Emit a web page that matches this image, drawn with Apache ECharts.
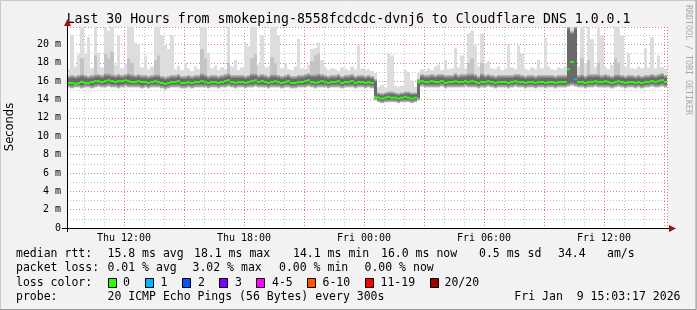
<!DOCTYPE html>
<html><head><meta charset="utf-8">
<script src="https://cdn.jsdelivr.net/npm/echarts@6/dist/echarts.min.js"></script>
<style>html,body{margin:0;padding:0;background:#f2f2f2}#c{width:697px;height:310px}</style>
</head><body><div id="c"></div>
<script>
// ---- time layout (hours since Thu 00:00), 10-minute bins ----
const startHour = 9.15;          // Thu 09:09
const spanHours = 30;
const stepHours = 1 / 6;
const yMax = 21.9;               // ms

const tickHours  = [12, 18, 24, 30, 36];
const tickLabels = ['Thu 12:00', 'Thu 18:00', 'Fri 00:00', 'Fri 06:00', 'Fri 12:00'];

// median rtt (ms)
const med = [
15.8,15.8,15.7,15.8,15.9,15.8,15.8,15.9,16.0,16.0,
15.9,16.0,16.1,16.0,15.9,16.0,16.0,16.1,16.0,15.9,
15.9,16.0,15.9,15.9,15.8,15.9,16.0,15.9,15.8,15.7,
15.8,15.9,15.9,16.0,15.8,15.8,15.9,15.8,15.9,15.9,
16.0,15.9,15.8,15.9,15.9,15.8,15.9,16.0,16.1,15.9,
15.8,15.9,15.9,15.8,15.9,16.0,16.1,15.9,16.0,15.9,
15.8,15.9,16.0,15.9,15.8,15.9,16.0,15.8,15.8,15.9,
15.9,16.0,16.1,15.9,15.8,15.9,16.0,15.9,15.8,15.9,
15.9,16.0,15.8,15.9,15.9,16.0,15.8,15.9,15.9,15.8,
15.9,15.8,14.3,14.2,14.1,14.2,14.3,14.2,14.2,14.1,
14.2,14.3,14.2,14.1,14.2,15.9,16.0,15.9,15.9,16.0,
15.9,15.9,16.0,15.8,15.9,15.9,16.0,15.9,15.9,16.0,
15.9,16.0,15.9,15.8,15.9,15.9,16.0,15.9,15.8,15.9,
15.9,15.9,15.8,15.9,16.0,15.9,15.9,15.8,15.9,15.9,
15.8,15.9,15.9,15.8,15.9,15.9,15.8,15.9,15.9,15.9,
17.3,18.1,16.2,15.9,15.9,15.8,15.9,15.9,16.0,15.9,
15.9,16.0,15.9,15.8,15.9,16.0,15.9,15.8,15.9,15.9,
15.8,15.9,15.8,15.9,15.9,16.0,15.9,16.0,16.1,15.9];

// loss category per bin (index into lossColors)
const loss = [
0,0,0,0,0,0,0,0,0,0, 0,0,0,0,0,0,0,0,0,0, 0,0,0,0,0,0,0,0,0,0,
0,0,0,0,0,0,0,0,0,0, 0,0,0,0,0,0,0,0,0,0, 0,0,0,0,0,0,0,0,0,0,
0,0,0,0,0,0,0,0,0,0, 0,0,0,0,0,0,0,0,0,0, 0,0,0,0,0,0,0,0,0,0,
0,0,0,0,0,0,0,0,0,0, 0,0,0,0,0,0,0,0,0,0, 0,0,0,0,0,0,0,0,0,0,
0,0,0,0,0,0,0,0,0,0, 0,0,0,0,0,0,0,0,0,0, 0,0,0,0,0,0,0,0,0,0,
0,0,1,0,0,0,0,0,0,0, 0,0,0,0,0,0,0,0,0,0, 0,0,0,0,0,0,0,0,0,0];

// lower edge of the dense smoke band (ms)
const lo = [
15.3,15.2,15.3,15.3,15.2,15.3,15.3,15.2,15.3,15.4,
15.3,15.3,15.4,15.3,15.3,15.2,15.3,15.4,15.3,15.3,
15.3,15.3,15.2,15.3,15.2,15.3,15.3,15.3,15.2,15.1,
15.2,15.3,15.3,15.3,15.2,15.2,15.3,15.2,15.3,15.3,
15.3,15.3,15.2,15.3,15.3,15.2,15.3,15.3,15.4,15.3,
15.2,15.3,15.3,15.2,15.3,15.3,15.4,15.3,15.3,15.3,
15.2,15.3,15.3,15.3,15.2,15.3,15.3,15.2,15.2,15.3,
15.3,15.3,15.4,15.3,15.2,15.3,15.3,15.3,15.2,15.3,
15.3,15.3,15.2,15.3,15.3,15.3,15.2,15.3,15.3,15.2,
15.3,15.2,13.9,13.7,13.6,13.7,13.7,13.7,13.7,13.6,
13.7,13.7,13.7,13.6,13.7,13.9,15.4,15.3,15.3,15.3,
15.3,15.3,15.4,15.2,15.3,15.3,15.3,15.3,15.3,15.4,
15.3,15.3,15.3,15.2,15.3,15.3,15.4,15.3,15.2,15.3,
15.3,15.3,15.2,15.3,15.4,15.3,15.3,15.2,15.3,15.3,
15.2,15.3,15.3,15.2,15.3,15.3,15.2,15.3,15.3,15.3,
15.4,15.5,15.4,15.3,15.3,15.2,15.3,15.3,15.4,15.3,
15.3,15.3,15.3,15.2,15.3,15.4,15.3,15.2,15.3,15.3,
15.2,15.3,15.2,15.3,15.3,15.4,15.3,15.3,15.4,15.3];

// upper edge of the dense smoke band (ms)
const up = [
16.6,16.7,16.6,16.7,16.8,16.7,16.6,16.7,16.8,16.8,
16.7,16.9,16.9,16.8,16.7,16.8,16.7,16.8,16.9,16.8,
16.7,16.8,16.7,16.7,16.6,16.7,16.8,16.8,16.6,16.5,
16.6,16.7,16.7,16.8,16.6,16.6,16.7,16.6,16.7,16.7,
16.9,16.8,16.6,16.7,16.7,16.6,16.7,16.8,16.9,16.7,
16.7,16.7,16.7,16.6,16.7,16.9,16.9,16.7,16.8,16.7,
16.6,16.8,16.8,16.7,16.6,16.7,16.8,16.6,16.6,16.7,
16.7,16.8,16.9,16.8,16.8,16.9,16.8,16.7,16.6,16.7,
16.7,16.8,16.6,16.7,16.7,16.8,16.6,16.7,16.7,16.6,
16.7,16.6,16.3,14.8,14.7,14.8,14.9,14.9,14.8,14.7,
14.8,14.9,14.9,14.8,14.8,16.3,16.8,16.7,16.7,16.8,
16.7,16.8,16.8,16.7,16.7,16.7,16.9,16.7,16.8,16.8,
16.9,16.9,16.8,16.6,16.9,16.7,16.8,16.7,16.6,16.7,
16.7,16.7,16.7,16.7,16.8,16.8,16.7,16.6,16.7,16.7,
16.6,16.7,16.7,16.7,16.7,16.7,16.6,16.7,16.7,16.7,
22,21.5,22,16.7,16.8,16.6,16.8,16.8,16.8,16.8,
16.7,16.8,16.7,16.6,16.8,16.8,16.7,16.6,16.7,16.7,
16.6,16.7,16.6,16.7,16.7,16.8,16.7,16.8,16.9,16.7];

// top of the medium-grey smoke (0 = none)
const mid = [
0,0,0,0,18.5,0,0,0,18.8,0,
0,19.0,18.5,19.2,0,0,0,0,18.5,18.0,
0,0,0,0,0,0,18.3,18.8,0,0,
0,0,0,0,0,0,0,0,0,0,
19.5,18.5,0,0,0,0,0,0,18.0,0,
0,0,0,0,0,18.5,19.0,0,0,0,
0,18.6,18.0,0,0,0,0,0,0,0,
0,0,0,18.2,18.8,19.0,0,0,0,0,
0,0,0,0,0,0,0,0,0,0,
0,0,0,0,0,0,0,0,0,0,
0,0,0,0,0,0,0,0,0,0,
0,0,0,0,0,0,0,0,0,0,
18.0,18.5,0,0,18.0,0,0,0,0,0,
0,0,0,0,0,0,0,0,0,0,
0,0,0,0,0,0,0,0,0,0,
0,0,0,0,18.5,0,18.3,0,0,18.0,
0,0,0,0,18.5,18.0,0,0,0,0,
0,0,0,0,0,0,0,0,0,0];

// maximum rtt of the bin (top of the light smoke, ms)
const mx = [
17.3,21.0,17.6,18.9,22,19.0,20.8,17.4,22,19.1,
17.5,22,21.5,22,17.8,21.0,17.4,17.9,22,22,
20.2,20.0,17.5,18.8,17.3,17.6,22,22,21.0,19.9,
19.5,21.0,17.3,17.7,17.2,18.0,17.4,17.1,17.6,17.3,
22,22,19.1,17.4,17.7,17.2,17.5,17.3,22,17.6,
18.3,17.2,17.5,20.2,19.8,22,22,17.8,21.0,17.5,
17.6,22,22,21.0,17.4,18.0,17.3,17.2,17.6,20.6,
17.4,17.3,17.8,19.5,19.6,20.2,18.3,17.5,17.2,17.4,
17.3,17.1,17.5,17.4,17.2,17.6,17.3,19.9,17.4,17.2,
17.3,17.1,16.9,15.4,15.6,15.3,19.1,18.8,15.5,15.4,
15.5,17.2,17.0,16.1,15.4,16.9,17.3,17.1,17.4,17.2,
17.6,17.8,17.2,18.3,17.3,17.4,19.6,17.5,18.8,17.4,
21.2,21.5,19.9,17.6,21.2,18.0,18.2,17.4,17.3,17.6,
17.2,17.4,20.0,17.5,17.3,19.9,19.0,17.4,17.2,17.5,
17.3,18.3,17.4,20.7,17.6,17.3,17.2,17.5,17.4,17.6,
22,22,22,17.6,22,18.0,22,20.6,17.6,22,
21.0,17.5,17.3,17.8,22,22,21.0,17.6,19.1,17.4,
17.3,17.6,17.4,19.6,17.5,20.8,17.4,18.8,17.5,17.3];

const lossColors = ['#26ff00','#00b8ff','#0059ff','#7e00ff','#ff00ff','#ff5500','#ff0000','#a10000'];
const lossLabels = ['0','1','2','3','4-5','6-10','11-19','20/20'];

const smokeData = med.map((m, i) => [startHour + i * stepHours, lo[i], up[i], mid[i], mx[i]]);
const medData = med.map((m, i) => [startHour + i * stepHours, m, loss[i]]);

const MONO = '"DejaVu Sans Mono", monospace';

function renderSmoke(params, api) {
  const x0 = api.value(0), x1 = x0 + stepHours;
  const l = api.value(1), u = api.value(2), md = api.value(3), m = api.value(4);
  const pL = api.coord([x0, l]), pU = api.coord([x1, u]), pM = api.coord([x1, m]);
  const xa = Math.round(pL[0]), w = Math.round(pU[0]) - xa;
  const ch = [];
  if (m > u) ch.push({type: 'rect', shape: {x: xa, y: pM[1], width: w, height: pU[1] - pM[1]}, style: {fill: '#dddddd'}});
  if (md > u) {
    const pm = api.coord([x1, md]);
    ch.push({type: 'rect', shape: {x: xa, y: pm[1], width: w, height: pU[1] - pm[1]}, style: {fill: '#c4c4c4'}});
  }
  const h = pL[1] - pU[1];
  const f = Math.min(0.3, 4 / Math.max(h, 1));
  ch.push({type: 'rect', shape: {x: xa, y: pU[1], width: w, height: h},
    style: {fill: new echarts.graphic.LinearGradient(0, 0, 0, 1, [
      {offset: 0, color: '#c6c6c6'}, {offset: f, color: '#6a6a6a'},
      {offset: 1 - f, color: '#6a6a6a'}, {offset: 1, color: '#c6c6c6'}])}});
  return {type: 'group', children: ch};
}

function renderMed(params, api) {
  const x0 = api.value(0), x1 = x0 + stepHours, m = api.value(1), l = api.value(2);
  const a = api.coord([x0, m]), b = api.coord([x1, m]);
  return {type: 'rect', shape: {x: Math.round(a[0]), y: a[1] - 1, width: Math.round(b[0]) - Math.round(a[0]), height: 2},
    style: {fill: lossColors[l]}};
}

const chart = echarts.init(document.getElementById('c'), null, {renderer: 'canvas'});
const minorLine = {show: true, lineStyle: {color: 'rgba(120,120,120,0.45)', type: [1, 2], width: 1}};
const majorLine = {show: true, lineStyle: {color: 'rgba(255,60,60,0.5)', type: [1, 2], width: 1}};

chart.setOption({
  backgroundColor: '#f2f2f2',
  animation: false,
  title: {text: 'Last 30 Hours from smokeping-8558fcdcdc-dvnj6 to Cloudflare DNS 1.0.0.1',
    left: 'center', top: 13, padding: 0,
    textStyle: {fontFamily: MONO, fontSize: 13.2, fontWeight: 'normal', color: '#000'}},
  grid: {left: 67, right: 30, top: 27, bottom: 82, show: true, backgroundColor: '#ffffff', borderWidth: 0},
  xAxis: [
    {type: 'value', min: startHour, max: startHour + spanHours, minInterval: 1, maxInterval: 1,
      position: 'bottom', axisLine: {show: true, onZero: false, lineStyle: {color: '#000', width: 1}},
      axisTick: {show: false}, axisLabel: {show: false}, splitLine: minorLine},
    {type: 'value', min: startHour, max: startHour + spanHours, minInterval: 3, maxInterval: 3,
      position: 'bottom', offset: 0, axisLine: {show: false}, axisTick: {show: false},
      axisLabel: {show: true, margin: 5, fontFamily: MONO, fontSize: 10, color: '#000',
        showMinLabel: false, showMaxLabel: false,
        formatter: v => { const k = tickHours.indexOf(Math.round(v * 100) / 100); return k >= 0 ? tickLabels[k] : ''; }},
      splitLine: majorLine}
  ],
  yAxis: [
    {type: 'value', min: 0, max: yMax, interval: 1, axisLine: {show: true, onZero: false, lineStyle: {color: '#000'}},
      axisTick: {show: false}, axisLabel: {show: false}, splitLine: minorLine},
    {type: 'value', min: 0, max: yMax, interval: 2, position: 'left', axisLine: {show: false}, axisTick: {show: false},
      axisLabel: {show: true, margin: 6, fontFamily: MONO, fontSize: 10, color: '#000',
        formatter: v => (v % 2 !== 0 ? '' : (v === 0 ? '0' : v + ' m'))},
      splitLine: majorLine}
  ],
  series: [
    {type: 'custom', name: 'smoke', xAxisIndex: 0, yAxisIndex: 0, clip: true, z: 2,
      renderItem: renderSmoke, data: smokeData, encode: {x: 0, y: [1, 2, 4]}},
    {type: 'custom', name: 'median', xAxisIndex: 0, yAxisIndex: 0, clip: true, z: 3,
      renderItem: renderMed, data: medData, encode: {x: 0, y: 1}}
  ]
});

// ---- decorations and legend text ----
const o = chart.convertToPixel({gridIndex: 0}, [startHour, 0]);
const e = chart.convertToPixel({gridIndex: 0}, [startHour + spanHours, yMax]);
const ARROW = '#a01010';
const g = [];
g.push({type: 'rect', shape: {x: 0.5, y: 0.5, width: 696, height: 309}, style: {fill: 'none', stroke: '#c9c9c9', lineWidth: 1}, z: 0});
g.push({type: 'polyline', shape: {points: [[696, 0], [696, 309.5], [0, 309.5]]}, style: {stroke: '#9a9a9a', lineWidth: 1, fill: 'none'}, z: 0});
g.push({type: 'line', shape: {x1: o[0] - 5, y1: o[1] + 0.5, x2: e[0] + 3, y2: o[1] + 0.5}, style: {stroke: '#000', lineWidth: 1}, z: 50});
g.push({type: 'line', shape: {x1: o[0] + 0.5, y1: o[1] + 4, x2: o[0] + 0.5, y2: e[1] - 2}, style: {stroke: '#000', lineWidth: 1}, z: 50});
g.push({type: 'polygon', shape: {points: [[e[0] + 2, o[1] - 3], [e[0] + 9, o[1] + 0.5], [e[0] + 2, o[1] + 4]]}, style: {fill: ARROW}, z: 51});
g.push({type: 'polygon', shape: {points: [[o[0] - 3, e[1] - 1], [o[0] + 0.5, e[1] - 8], [o[0] + 4, e[1] - 1]]}, style: {fill: ARROW}, z: 51});
g.push({type: 'text', x: 10, y: 127, rotation: Math.PI / 2,
  style: {text: 'Seconds', font: '11.5px "DejaVu Sans", sans-serif', fill: '#000', align: 'center', verticalAlign: 'middle'}});
g.push({type: 'text', x: 688, y: 60, rotation: -Math.PI / 2,
  style: {text: 'RRDTOOL / TOBI OETIKER', font: '8.3px ' + MONO, fill: '#a8a8a8', align: 'center', verticalAlign: 'middle'}});
const LF = '11.5px ' + MONO;
const rows = [
  [254, [[16, 'median rtt:'], [107.5, '15.8 ms avg'], [194, '18.1 ms max'], [293, '14.1 ms min'], [381, '16.0 ms now'], [479, '0.5 ms sd'], [558, '34.4'], [607, 'am/s']]],
  [268, [[16, 'packet loss:'], [107.5, '0.01 % avg'], [192.5, '3.02 % max'], [279, '0.00 % min'], [364.5, '0.00 % now']]],
  [283, [[16, 'loss color:']]],
  [297, [[16, 'probe:'], [107.5, '20 ICMP Echo Pings (56 Bytes) every 300s']]]
];
rows.forEach(([y, items]) => items.forEach(([x, t]) => g.push({type: 'text', x: x, y: y,
  style: {text: t, font: LF, fill: '#000', align: 'left', verticalAlign: 'middle'}})));
g.push({type: 'text', x: 680.5, y: 297, style: {text: 'Fri Jan  9 15:03:17 2026', font: LF, fill: '#000', align: 'right', verticalAlign: 'middle'}});
const boxX = [108.5, 145.5, 182.5, 219.5, 256.5, 307.5, 365.5, 430.5];
const labX = [123, 160.5, 198, 235, 272, 322.5, 380.5, 444.5];
lossColors.forEach((c, i) => {
  g.push({type: 'rect', shape: {x: boxX[i], y: 278.5, width: 8, height: 9}, style: {fill: c, stroke: '#000', lineWidth: 1}});
  g.push({type: 'text', x: labX[i], y: 283, style: {text: lossLabels[i], font: LF, fill: '#000', align: 'left', verticalAlign: 'middle'}});
});
chart.setOption({graphic: g});
</script></body></html>
